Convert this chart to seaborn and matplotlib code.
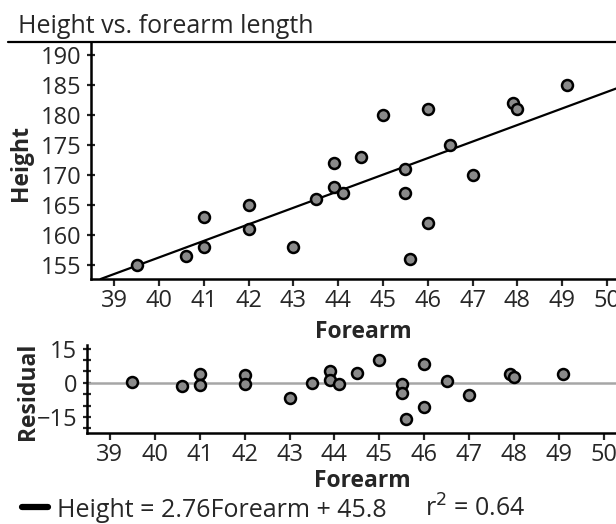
import numpy as np
import pandas as pd
import seaborn as sns
import matplotlib.pyplot as plt
from matplotlib.lines import Line2D
from matplotlib.ticker import MultipleLocator

# values
forearm = [39.5, 40.6, 41.0, 41.0, 42.0, 42.0, 43.0, 43.5, 43.9, 43.9, 44.1, 44.5,
           45.0, 45.5, 45.5, 45.6, 46.0, 46.0, 46.5, 47.0, 47.9, 48.0, 49.1]
height = [155, 156.5, 163, 158, 165, 161, 158, 166, 172, 168, 167, 173,
          180, 171, 167, 156, 181, 162, 175, 170, 182, 181, 185]
slope = 2.76
intercept = 45.8
r_squared = 0.64

df = pd.DataFrame({"Forearm": forearm, "Height": height})
df["Residual"] = df["Height"] - (slope * df["Forearm"] + intercept)

sns.set_style("ticks")
plt.rcParams["font.family"] = ["Open Sans", "DejaVu Sans"]

W, H = 616, 524
fig = plt.figure(figsize=(W / 100, H / 100), dpi=100)

def box(l, t, r, b):
    return [l / W, 1 - b / H, (r - l) / W, (b - t) / H]

ax = fig.add_axes(box(91, 41.5, 616, 279))
ax2 = fig.add_axes(box(87, 345, 616, 433))

pt_kw = dict(color="#8a8a8a", edgecolor="black", linewidth=1.8, s=62, zorder=3, legend=False)
tick_fs = 17
lab_fs = 16.5

# main panel
sns.scatterplot(data=df, x="Forearm", y="Height", ax=ax, **pt_kw)
ax.axline((0, intercept), slope=slope, color="black", lw=1.6, zorder=2)
ax.set_xlim(38.48, 50.2)
ax.set_ylim(152.6, 192.2)
ax.set_xticks(range(39, 51))
ax.set_yticks(range(155, 191, 5))
ax.set_xlabel("Forearm", fontsize=lab_fs, fontweight="bold")
ax.set_ylabel("Height", fontsize=lab_fs, fontweight="bold")
ax.xaxis.set_label_coords(0.518, -0.172)
ax.yaxis.set_label_coords(-0.11, 0.49)

# residual panel
ax2.axhline(0, color="#a6a6a6", lw=1.8, zorder=1)
sns.scatterplot(data=df, x="Forearm", y="Residual", ax=ax2, **pt_kw)
ax2.set_xlim(38.49, 50.27)
ax2.set_ylim(-22, 16.6)
ax2.set_xticks(range(39, 51))
ax2.set_yticks([-15, 0, 15])
ax2.yaxis.set_minor_locator(MultipleLocator(5))
ax2.set_xlabel("Forearm", fontsize=lab_fs, fontweight="bold")
ax2.set_ylabel("Residual", fontsize=lab_fs, fontweight="bold")
ax2.xaxis.set_label_coords(0.52, -0.41)
ax2.yaxis.set_label_coords(-0.088, 0.47)

for a in (ax, ax2):
    sns.despine(ax=a)
    for s in ("left", "bottom"):
        a.spines[s].set_linewidth(1.8)
        a.spines[s].set_color("black")
    a.tick_params(axis="x", direction="out", length=5, width=1.6, labelsize=tick_fs, pad=2.5)
    a.tick_params(axis="y", direction="inout", length=6, width=1.6, labelsize=tick_fs, pad=4)
ax2.tick_params(axis="y", which="minor", direction="inout", length=6, width=1.6)

# title and header rule
fig.text(18 / W, 1 - 33 / H, "Height vs. forearm length", fontsize=18, va="baseline", ha="left")
fig.add_artist(Line2D([8 / W, 1], [1 - 41.5 / H, 1 - 41.5 / H], color="black", lw=1.6))

# fit legend
fig.add_artist(Line2D([22 / W, 48 / W], [1 - 507 / H, 1 - 507 / H], color="black", lw=4.5))
fig.text(57 / W, 1 - 517 / H, f"Height = {slope}Forearm + {intercept}", fontsize=18, va="baseline", ha="left")
fig.text(425 / W, 1 - 517 / H, f"r$^2$ = {r_squared}", fontsize=18, va="baseline", ha="left")

fig.savefig("out.png", dpi=100)
